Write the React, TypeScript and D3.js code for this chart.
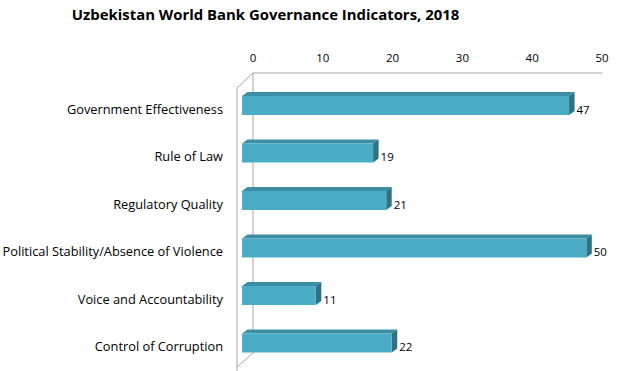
import React from 'react';
import { scaleLinear, scaleBand, format } from 'd3';

const categories = [
    'Government Effectiveness',
    'Rule of Law',
    'Regulatory Quality',
    'Political Stability/Absence of Violence',
    'Voice and Accountability',
    'Control of Corruption',
];
const values = [47.4, 19.0, 20.9, 49.9, 10.7, 21.7];
const ticks = [0, 10, 20, 30, 40, 50];

const font = '"Open Sans", sans-serif';
const fmt = format('.0f');

const App = () => {
    const width = 622;
    const height = 371;

    // back plane (axis) and front plane (bar faces) scales
    const x = scaleLinear().domain([0, 50]).range([253, 602]);
    const xFront = scaleLinear().domain([0, 50]).range([242, 587]);
    const y = scaleBand()
        .domain(categories)
        .range([81.75, 366.75])
        .paddingInner(0.6)
        .paddingOuter(0.3);

    // 3d offsets
    const wallDx = 16, wallDy = 15;
    const depthX = 5.5, depthY = 4;

    const wallTop = 73;
    const wallBottom = 353;

    return (
        <svg width={width} height={height} style={{ position: 'absolute', left: 0, top: 0 }}>
            <rect width={width} height={height} fill="#fff" />
            <text x={265.5} y={20} textAnchor="middle" fontFamily={font} fontWeight="bold" fontSize={14.9}>
                Uzbekistan World Bank Governance Indicators, 2018
            </text>

            {/* walls */}
            <g stroke="#a6a6a6" fill="none" strokeWidth={1}>
                <line x1={x(0)} y1={wallTop} x2={x(50)} y2={wallTop} />
                <line x1={x(0)} y1={wallTop} x2={x(0)} y2={wallBottom} />
                <line x1={x(0)} y1={wallTop} x2={x(0) - wallDx} y2={wallTop + wallDy} />
                <line x1={x(0) - wallDx} y1={wallTop + wallDy} x2={x(0) - wallDx} y2={371} />
                <line x1={x(0)} y1={wallBottom} x2={x(0) - wallDx} y2={wallBottom + wallDy - 1} />
            </g>

            {/* ticks */}
            {ticks.map(t => (
                <text key={t} x={x(t)} y={62} textAnchor="middle" fontFamily={font} fontSize={11.5} fill="#000">
                    {t}
                </text>
            ))}

            {/* bars */}
            {categories.map((c, i) => {
                const v = values[i];
                const y0 = y(c) as number;
                const h = y.bandwidth();
                const x0 = xFront(0);
                const x1 = xFront(v);
                const cy = y0 + h / 2;
                return (
                    <g key={c}>
                        <polygon
                            points={`${x0},${y0} ${x0 + depthX},${y0 - depthY} ${x1 + depthX},${y0 - depthY} ${x1},${y0}`}
                            fill="#3b8ea3"
                        />
                        <polygon
                            points={`${x1},${y0} ${x1 + depthX},${y0 - depthY} ${x1 + depthX},${y0 + h - depthY} ${x1},${y0 + h}`}
                            fill="#2e7384"
                        />
                        <rect x={x0} y={y0} width={x1 - x0} height={h} fill="#4bacc6" />
                        <text x={x1 + depthX + 2} y={cy + 8} fontFamily={font} fontSize={11.5} fill="#000">
                            {fmt(v)}
                        </text>
                        <text x={223} y={cy + 8} textAnchor="end" fontFamily={font} fontSize={12.8} fill="#000">
                            {c}
                        </text>
                    </g>
                );
            })}
        </svg>
    );
};

export default App;
